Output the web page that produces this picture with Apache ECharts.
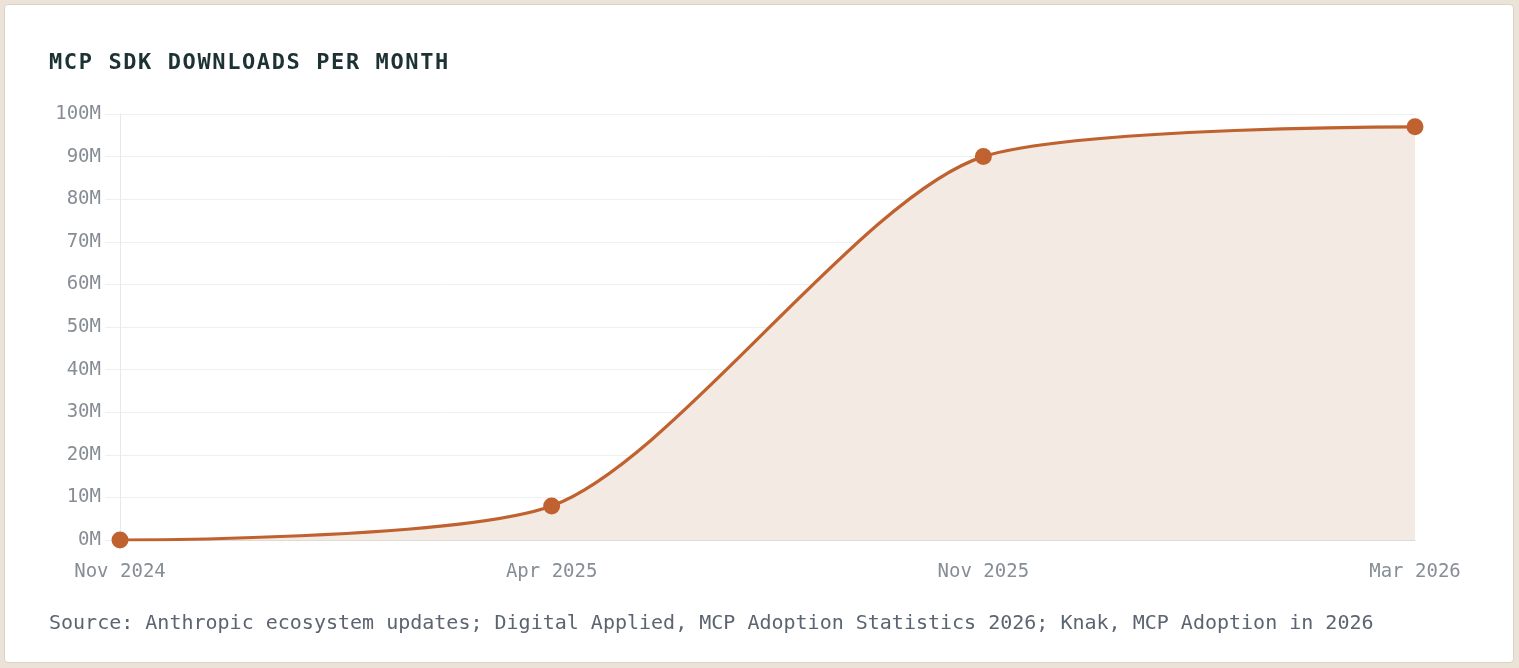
<!DOCTYPE html>
<html>
    <head>
        <meta charset="utf-8">
        <script src="https://cdn.jsdelivr.net/npm/echarts@6/dist/echarts.min.js"></script>
        <style>
            html, body {
                width: 100%;
                height: 100%;
                margin: 0;
                background: #ebe3d7;
                overflow: hidden;
            }
            #card {
                position: absolute;
                left: 4px; top: 4px;
                width: 1508px; height: 657px;
                background: #fff;
                border: 1px solid #dcd2c3;
                border-radius: 4px;
            }
            #title {
                position: absolute;
                left: 49px; top: 49px;
                font-family: "DejaVu Sans Mono", monospace;
                font-weight: bold;
                font-size: 22px;
                letter-spacing: 1.6px;
                color: #1d3232;
            }
            #main {
                position: absolute;
                left: 0; top: 0;
                width: 1519px; height: 668px;
            }
        </style>
    </head>
    <body>
        <div id="card"></div>
        <div id="main"></div>
        <div id="title">MCP SDK DOWNLOADS PER MONTH</div>
        <script>
            // data
            var months = ['Nov 2024', 'Apr 2025', 'Nov 2025', 'Mar 2026'];
            var downloads = [0, 8, 90, 97];   // millions per month
            var source = 'Source: Anthropic ecosystem updates; Digital Applied, MCP Adoption Statistics 2026; Knak, MCP Adoption in 2026';

            var mono = '"DejaVu Sans Mono", monospace';
            var chart = echarts.init(document.getElementById('main'));
            var option = {
                backgroundColor: 'transparent',
                animation: false,
                grid: { left: 120, right: 104, top: 114, bottom: 128 },
                xAxis: {
                    type: 'category',
                    data: months,
                    boundaryGap: false,
                    axisLine: { lineStyle: { color: '#dedad4', width: 1 } },
                    axisTick: { show: false },
                    axisLabel: { color: '#878d95', fontFamily: mono, fontSize: 19, margin: 23 },
                    splitLine: { show: false }
                },
                yAxis: {
                    type: 'value',
                    min: 0, max: 100, interval: 10,
                    axisLine: { show: true, lineStyle: { color: '#e8e8e8' } },
                    axisTick: { show: true, inside: false, length: 15, lineStyle: { color: '#efefef' } },
                    axisLabel: {
                        color: '#878d95', fontFamily: mono, fontSize: 19, margin: 19,
                        formatter: function (v) { return v + 'M'; }
                    },
                    splitLine: { lineStyle: { color: '#efefef', width: 1 } }
                },
                series: [{
                    type: 'line',
                    data: downloads,
                    smooth: 0.25,
                    symbol: 'circle',
                    symbolSize: 17,
                    itemStyle: { color: '#c0622f' },
                    lineStyle: { color: '#c0622f', width: 3.2 },
                    areaStyle: { color: '#f3eae3', opacity: 1 }
                }],
                graphic: [{
                    type: 'text',
                    left: 49,
                    top: 614,
                    style: {
                        text: source,
                        fill: '#5b6470',
                        font: '20px ' + mono
                    }
                }]
            };
            chart.setOption(option);
            window.onresize = chart.resize;
        </script>
    </body>
</html>
